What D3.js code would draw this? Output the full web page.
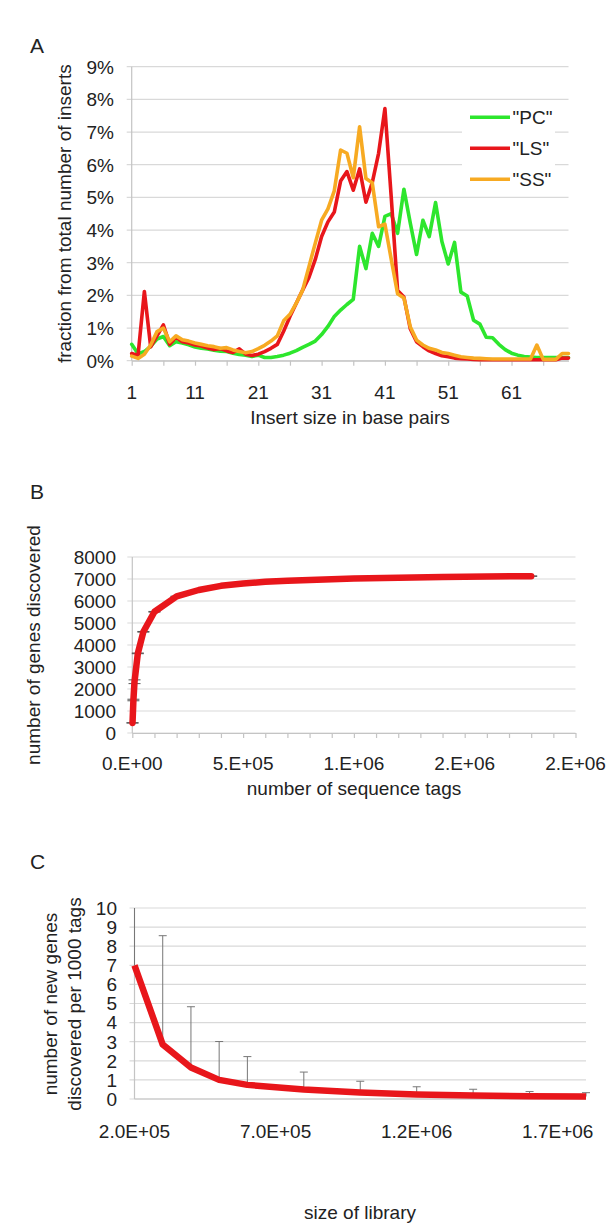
<!DOCTYPE html>
<html>
<head>
<meta charset="utf-8">
<script src="https://cdn.jsdelivr.net/npm/d3@7"></script>
<style>
body { margin: 0; background: #fff; }
svg text { font-family: "Liberation Sans", Arial, Helvetica, sans-serif; fill: #222; }
</style>
</head>
<body>
<div id="chart"></div>
<script>
// ---- panel A: insert size distribution (percent of inserts)
const insertSize = d3.range(1, 71);
const pcValues = [0.5, 0.21, 0.28, 0.44, 0.66, 0.74, 0.46, 0.58, 0.54, 0.49, 0.42, 0.38, 0.36, 0.32, 0.29, 0.28, 0.23, 0.19, 0.17, 0.13,
  0.17, 0.1, 0.1, 0.13, 0.17, 0.23, 0.31, 0.41, 0.5, 0.6, 0.8, 1.05, 1.35, 1.55, 1.72, 1.88, 3.5, 2.82, 3.9, 3.5,
  4.42, 4.5, 3.9, 5.25, 4.22, 3.25, 4.3, 3.8, 4.84, 3.65, 2.96, 3.62, 2.1, 1.98, 1.24, 1.12, 0.72, 0.7, 0.5, 0.34,
  0.23, 0.17, 0.13, 0.11, 0.1, 0.1, 0.1, 0.1, 0.1, 0.1];
const lsValues = [0.22, 0.16, 2.12, 0.42, 0.76, 1.1, 0.5, 0.72, 0.58, 0.54, 0.48, 0.45, 0.39, 0.34, 0.37, 0.3, 0.25, 0.36, 0.2, 0.16,
  0.2, 0.28, 0.38, 0.5, 0.9, 1.35, 1.76, 2.16, 2.55, 3.1, 3.8, 4.25, 4.55, 5.5, 5.79, 5.22, 5.87, 4.85, 5.45, 6.35,
  7.72, 5.0, 2.15, 1.95, 0.98, 0.58, 0.43, 0.3, 0.22, 0.15, 0.12, 0.08, 0.06, 0.05, 0.04, 0.03, 0.03, 0.03, 0.03, 0.03,
  0.03, 0.03, 0.03, 0.03, 0.03, 0.03, 0.03, 0.03, 0.08, 0.08];
const ssValues = [0.14, 0.07, 0.2, 0.48, 0.89, 1.0, 0.58, 0.76, 0.64, 0.6, 0.54, 0.5, 0.46, 0.43, 0.38, 0.4, 0.33, 0.28, 0.24, 0.28,
  0.37, 0.47, 0.6, 0.76, 1.22, 1.42, 1.76, 2.16, 2.88, 3.6, 4.3, 4.65, 5.2, 6.45, 6.35, 5.6, 7.16, 5.58, 5.45, 4.1,
  4.18, 3.1, 2.05, 1.92, 1.04, 0.63, 0.48, 0.38, 0.33, 0.25, 0.22, 0.17, 0.12, 0.1, 0.08, 0.07, 0.06, 0.05, 0.05, 0.05,
  0.05, 0.05, 0.05, 0.05, 0.48, 0.04, 0.04, 0.04, 0.22, 0.22];
const seriesNames = ['"PC"', '"LS"', '"SS"'];
const seriesColors = ["#2de62d", "#e8161b", "#f7aa22"];
const pctTicks = [0, 1, 2, 3, 4, 5, 6, 7, 8, 9];
const sizeTicks = [1, 6, 11, 16, 21, 26, 31, 36, 41, 46, 51, 56, 61, 66];
const sizeLabels = [1, 11, 21, 31, 41, 51, 61];

// ---- panel B: saturation curve
const seqTags = [1000, 5000, 10000, 25000, 50000, 100000, 200000, 300000, 400000, 500000, 600000, 700000,
  800000, 900000, 1000000, 1200000, 1400000, 1600000, 1800000];
const genesFound = [460, 1500, 2330, 3620, 4600, 5510, 6210, 6500, 6690, 6800, 6870, 6920,
  6960, 6990, 7020, 7060, 7090, 7110, 7130];
const genesErr = [10, 35, 85, 15, 15, 15, 10, 10, 10, 10, 10, 10, 10, 10, 10, 10, 10, 10, 10];
const genesTicks = [0, 1000, 2000, 3000, 4000, 5000, 6000, 7000, 8000];
const tagMinorTicks = d3.range(0, 2000001, 100000);
const tagTicks = [0, 500000, 1000000, 1500000, 2000000];
const tagLabels = ["0.E+00", "5.E+05", "1.E+06", "2.E+06", "2.E+06"];

// ---- panel C: new genes per 1000 tags
const librarySize = [200000, 300000, 400000, 500000, 600000, 800000, 1000000, 1200000, 1400000, 1600000, 1800000];
const newGenes = [7.0, 2.85, 1.65, 1.0, 0.74, 0.5, 0.34, 0.24, 0.18, 0.15, 0.13];
const newGenesUpper = [10.5, 8.55, 4.83, 3.01, 2.22, 1.41, 0.93, 0.64, 0.51, 0.39, 0.33];
const newGenesTicks = [0, 1, 2, 3, 4, 5, 6, 7, 8, 9, 10];
const libTicks = [200000, 700000, 1200000, 1700000];
const libLabels = ["2.0E+05", "7.0E+05", "1.2E+06", "1.7E+06"];

const width = 614, height = 1226;
const gridColor = "#d9d9d9", axisColor = "#c4c4c4";
const fontSize = 19;

const svg = d3.select("#chart").append("svg")
  .attr("width", width)
  .attr("height", height);

function grid(g, x, y, ticks) {
  const [x0, x1] = x.range();
  g.append("g").selectAll("line")
    .data(ticks)
    .join("line")
    .attr("x1", x0 - 5).attr("x2", x1)
    .attr("y1", d => y(d)).attr("y2", d => y(d))
    .attr("stroke", gridColor).attr("stroke-width", 1.2);
  g.append("line")
    .attr("x1", x0).attr("x2", x0)
    .attr("y1", y.range()[1]).attr("y2", y.range()[0])
    .attr("stroke", axisColor).attr("stroke-width", 1.2);
}

function yLabels(g, y, ticks, right, fmt) {
  g.append("g").selectAll("text")
    .data(ticks)
    .join("text")
    .attr("x", right).attr("y", d => y(d))
    .attr("dy", "0.36em")
    .attr("text-anchor", "end")
    .attr("font-size", fontSize)
    .text(fmt);
}

function bottomTicks(g, x, y0, ticks) {
  const axis = d3.axisBottom(x).tickValues(ticks).tickSize(5).tickSizeOuter(0).tickFormat("");
  const a = g.append("g").attr("transform", `translate(0,${y0})`).call(axis);
  a.select(".domain").attr("stroke", axisColor).attr("stroke-width", 1.2);
  a.selectAll(".tick line").attr("stroke", axisColor).attr("stroke-width", 1.2);
}

function xLabels(g, x, ticks, labels, yc) {
  g.append("g").selectAll("text")
    .data(ticks)
    .join("text")
    .attr("x", d => x(d)).attr("y", yc)
    .attr("dy", "0.36em")
    .attr("text-anchor", "middle")
    .attr("font-size", fontSize)
    .text((d, i) => labels[i]);
}

function panelLetter(txt, x, y) {
  svg.append("text").attr("x", x).attr("y", y)
    .attr("font-size", 21).text(txt);
}

function yTitle(lines, cx, cy) {
  const t = svg.append("text")
    .attr("transform", `translate(${cx},${cy}) rotate(-90)`)
    .attr("text-anchor", "middle")
    .attr("font-size", fontSize);
  lines.forEach((l, i) => {
    t.append("tspan").attr("x", 0)
      .attr("dy", i === 0 ? `${0.36 - (lines.length - 1) * 0.62}em` : "1.24em")
      .text(l);
  });
}

function xTitle(txt, cx, cy) {
  svg.append("text").attr("x", cx).attr("y", cy)
    .attr("dy", "0.36em")
    .attr("text-anchor", "middle")
    .attr("font-size", fontSize)
    .text(txt);
}

// ================= A
function drawA() {
  const g = svg.append("g");
  const x = d3.scaleLinear().domain([1, 70]).range([131.7, 568.5]);
  const y = d3.scaleLinear().domain([0, 9]).range([360.7, 66.7]);

  grid(g, x, y, pctTicks);
  yLabels(g, y, pctTicks, 114, d => d + "%");
  bottomTicks(g, x, y(0), sizeTicks);
  xLabels(g, x, sizeLabels, sizeLabels, 391.7);

  const line = d3.line()
    .x((d, i) => x(insertSize[i]))
    .y(d => y(d));
  const series = [pcValues, lsValues, ssValues];
  g.append("g").selectAll("path")
    .data(series)
    .join("path")
    .attr("d", line)
    .attr("fill", "none")
    .attr("stroke", (d, i) => seriesColors[i])
    .attr("stroke-width", 3.6)
    .attr("stroke-linejoin", "round")
    .attr("stroke-linecap", "round");

  // legend box
  const lg = g.append("g");
  lg.append("rect").attr("x", 462).attr("y", 101).attr("width", 93).attr("height", 92).attr("fill", "#fff");
  seriesNames.forEach((name, i) => {
    const yy = 117.3 + i * 31;
    lg.append("line").attr("x1", 470).attr("x2", 510).attr("y1", yy).attr("y2", yy)
      .attr("stroke", seriesColors[i]).attr("stroke-width", 3.6);
    lg.append("text").attr("x", 512.5).attr("y", yy).attr("dy", "0.36em")
      .attr("font-size", fontSize).text(name);
  });

  panelLetter("A", 30, 53);
  yTitle(["fraction from total number of inserts"], 64, 213.7);
  xTitle("Insert size in base pairs", 350, 417);
}

// ================= B
function drawB() {
  const g = svg.append("g");
  const x = d3.scaleLinear().domain([0, 2000000]).range([132.3, 575.5]);
  const y = d3.scaleLinear().domain([0, 8000]).range([733, 557]);

  grid(g, x, y, genesTicks);
  yLabels(g, y, genesTicks, 116, d => d);
  bottomTicks(g, x, y(0), tagMinorTicks);
  xLabels(g, x, tagTicks, tagLabels, 763);

  // error bars sit under the curve, only the wide ones show
  const eb = g.append("g").attr("stroke", "#555").attr("stroke-width", 1);
  genesFound.forEach((v, i) => {
    const cx = x(seqTags[i]);
    [v - genesErr[i], v + genesErr[i]].forEach(e => {
      eb.append("line").attr("x1", cx - 6).attr("x2", cx + 6).attr("y1", y(e)).attr("y2", y(e));
    });
  });

  const line = d3.line()
    .x((d, i) => x(seqTags[i]))
    .y(d => y(d));
  g.append("path")
    .attr("d", line(genesFound))
    .attr("fill", "none")
    .attr("stroke", seriesColors[1])
    .attr("stroke-width", 6.5)
    .attr("stroke-linejoin", "round")
    .attr("stroke-linecap", "round");

  panelLetter("B", 30, 499);
  yTitle(["number of genes discovered"], 33, 645);
  xTitle("number of sequence tags", 354, 788);
}

// ================= C
function drawC() {
  const g = svg.append("g");
  const x = d3.scaleLinear().domain([200000, 1800000]).range([134.5, 586]);
  const y = d3.scaleLinear().domain([0, 10]).range([1099, 908]);

  grid(g, x, y, newGenesTicks);
  yLabels(g, y, newGenesTicks, 117, d => d);
  g.append("line").attr("x1", x.range()[0]).attr("x2", x.range()[1])
    .attr("y1", y(0)).attr("y2", y(0)).attr("stroke", axisColor).attr("stroke-width", 1.2);
  xLabels(g, x, libTicks, libLabels, 1131);

  svg.append("clipPath").attr("id", "clipC")
    .append("rect").attr("x", x.range()[0] - 10).attr("y", y(10))
    .attr("width", x.range()[1] - x.range()[0] + 20).attr("height", y(0) - y(10));

  // upper error bars
  const eb = g.append("g").attr("clip-path", "url(#clipC)")
    .attr("stroke", "#777").attr("stroke-width", 1);
  newGenes.forEach((v, i) => {
    const cx = x(librarySize[i]);
    eb.append("line").attr("x1", cx).attr("x2", cx).attr("y1", y(v)).attr("y2", y(newGenesUpper[i]));
    eb.append("line").attr("x1", cx - 4).attr("x2", cx + 4)
      .attr("y1", y(newGenesUpper[i])).attr("y2", y(newGenesUpper[i]));
  });

  const line = d3.line()
    .x((d, i) => x(librarySize[i]))
    .y(d => y(d));
  g.append("path")
    .attr("d", line(newGenes))
    .attr("fill", "none")
    .attr("stroke", seriesColors[1])
    .attr("stroke-width", 6.5)
    .attr("stroke-linejoin", "round");

  panelLetter("C", 30, 869);
  yTitle(["number of new genes", "discovered per 1000 tags"], 62, 1004);
  xTitle("size of library", 360, 1212);
}

drawA();
drawB();
drawC();
</script>
</body>
</html>
